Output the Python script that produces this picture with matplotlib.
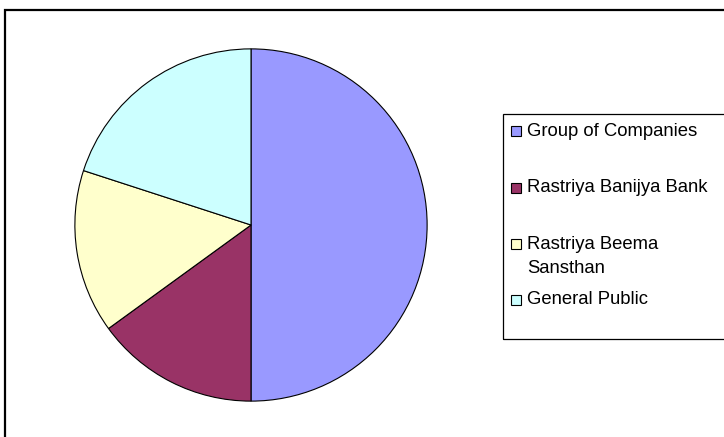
import matplotlib.pyplot as plt
from matplotlib.patches import Rectangle

labels = ['Group of Companies', 'Rastriya Banijya Bank', 'Rastriya Beema\nSansthan', 'General Public']
shares = [50, 15, 15, 20]
colors = ['#9999FF', '#993366', '#FFFFCC', '#CCFFFF']

W, H = 724, 437
fig = plt.figure(figsize=(W / 100, H / 100), dpi=100)
plt.rcParams['font.family'] = ['Liberation Sans', 'DejaVu Sans']

# outer chart border (runs off the right and bottom edge)
fig.patches.append(Rectangle((5 / W, -0.05), 1.0, (H - 10) / H + 0.05, transform=fig.transFigure,
                             fill=False, edgecolor='black', linewidth=1.6))

# pie, centre (251, 225) px, radius 177 px
cx, cy, r = 251, 225, 177
ax = fig.add_axes([(cx - r) / W, (H - cy - r) / H, 2 * r / W, 2 * r / H])
ax.pie(shares, colors=colors, startangle=90, counterclock=False,
       wedgeprops=dict(edgecolor='black', linewidth=0.8))
ax.set_xlim(-1.005, 1.005)
ax.set_ylim(-1.005, 1.005)
ax.set_aspect('equal')
ax.axis('off')

# legend box
fig.patches.append(Rectangle((503 / W, (H - 339) / H), 0.5, 225 / H, transform=fig.transFigure,
                             fill=False, edgecolor='black', linewidth=0.9))
rows_y = [131, 188, 256.5, 300]
for lab, col, y in zip(labels, colors, rows_y):
    top = y - 12.5 if '\n' in lab else y
    fig.patches.append(Rectangle((511 / W, (H - top - 5) / H), 10 / W, 10 / H,
                                 transform=fig.transFigure, facecolor=col,
                                 edgecolor='black', linewidth=0.8))
    fig.text(527 / W, (H - y) / H, lab, fontsize=13.3, va='center', ha='left',
             linespacing=1.5)

fig.savefig('out.png', dpi=100)
